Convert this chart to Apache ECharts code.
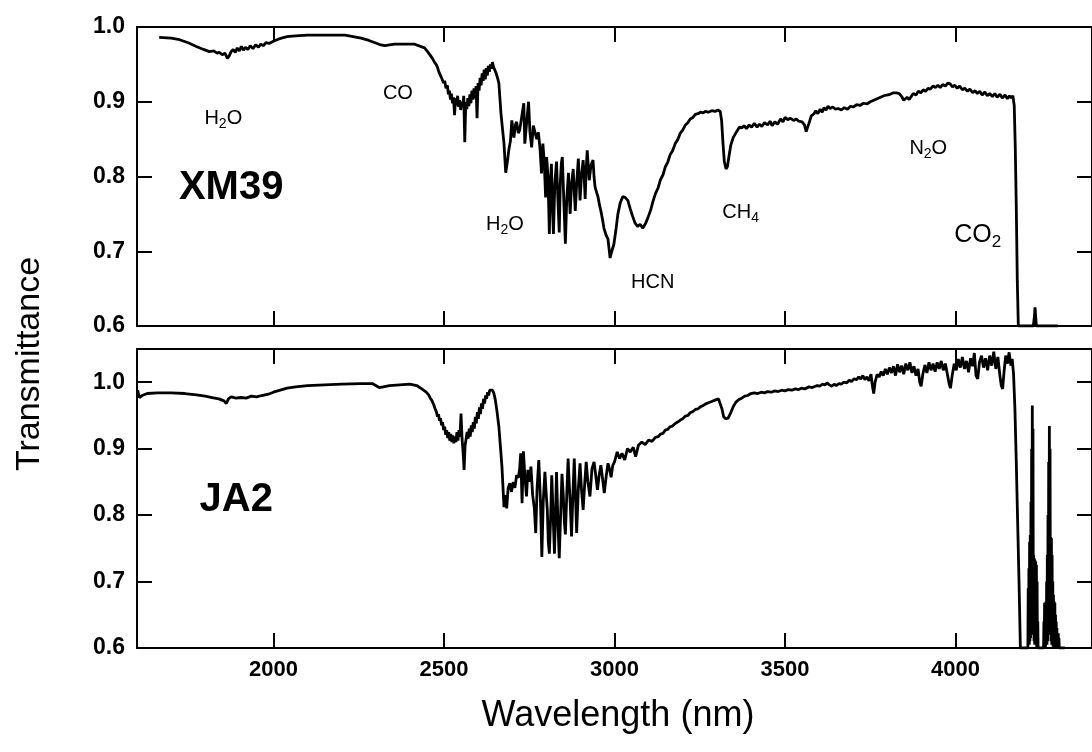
<!DOCTYPE html>
<html>
<head>
<meta charset="utf-8">
<script src="https://cdn.jsdelivr.net/npm/echarts@6/dist/echarts.min.js"></script>
<style>
  html, body { margin: 0; padding: 0; background: #fff; }
  #chart { width: 1092px; height: 752px; }
</style>
</head>
<body>
<div id="chart"></div>
<script>
// Tick positions shared by both panels
const xTicks = [2000, 2500, 3000, 3500, 4000];
const yTicks = [0.6, 0.7, 0.8, 0.9, 1.0];

// Transmittance spectrum, sample XM39: [wavelength (nm), transmittance]
const xm39 = [
  [1665,0.986],[1700,0.985],[1725,0.983],[1750,0.979],[1774,0.974],[1795,0.970],[1812,0.967],[1825,0.968],
  [1835,0.965],[1841,0.966],[1850,0.963],[1858,0.965],[1865,0.958],[1870,0.961],[1876,0.967],[1882,0.970],
  [1888,0.966],[1894,0.972],[1900,0.968],[1906,0.974],[1912,0.969],[1918,0.973],[1925,0.970],[1932,0.975],
  [1940,0.971],[1948,0.976],[1956,0.973],[1963,0.977],[1970,0.975],[1978,0.979],[1987,0.978],[2000,0.981],
  [2016,0.984],[2040,0.987],[2065,0.988],[2100,0.989],[2150,0.989],[2210,0.989],[2257,0.985],[2280,0.982],
  [2298,0.979],[2315,0.976],[2327,0.975],[2340,0.976],[2356,0.977],[2385,0.977],[2414,0.977],[2443,0.972],
  [2452,0.967],[2460,0.962],[2466,0.958],[2472,0.953],[2477,0.950],[2481,0.946],[2485,0.940],[2488,0.942],
  [2492,0.933],[2495,0.935],[2499,0.925],[2502,0.928],[2506,0.918],[2510,0.922],[2513,0.910],[2516,0.915],
  [2519,0.903],[2522,0.911],[2525,0.898],[2528,0.906],[2531,0.882],[2534,0.905],[2537,0.895],[2540,0.908],
  [2543,0.893],[2546,0.902],[2549,0.889],[2552,0.900],[2555,0.893],[2558,0.908],[2561,0.846],[2564,0.900],
  [2567,0.890],[2570,0.905],[2573,0.894],[2576,0.910],[2579,0.898],[2582,0.915],[2585,0.903],[2588,0.918],
  [2591,0.905],[2594,0.921],[2597,0.878],[2600,0.925],[2603,0.915],[2606,0.932],[2609,0.922],[2612,0.938],
  [2615,0.928],[2618,0.943],[2621,0.930],[2624,0.945],[2627,0.935],[2630,0.948],[2633,0.940],[2636,0.950],
  [2639,0.944],[2642,0.953],[2645,0.947],[2649,0.946],[2653,0.938],[2657,0.932],[2661,0.925],[2664,0.905],
  [2667,0.885],[2670,0.871],[2676,0.844],[2681,0.805],[2686,0.820],[2690,0.835],[2695,0.848],[2699,0.875],
  [2705,0.852],[2710,0.870],[2713,0.873],[2718,0.858],[2722,0.862],[2728,0.880],[2734,0.898],[2737,0.844],
  [2742,0.870],[2748,0.900],[2752,0.860],[2757,0.839],[2762,0.868],[2766,0.869],[2772,0.850],[2777,0.859],
  [2782,0.835],[2786,0.804],[2790,0.844],[2794,0.820],[2798,0.772],[2801,0.826],[2805,0.800],[2809,0.723],
  [2812,0.790],[2815,0.817],[2818,0.760],[2821,0.723],[2825,0.790],[2830,0.820],[2834,0.770],[2838,0.725],
  [2841,0.790],[2844,0.817],[2847,0.826],[2852,0.760],[2856,0.710],[2860,0.770],[2865,0.805],[2868,0.770],
  [2870,0.750],[2874,0.790],[2879,0.810],[2882,0.780],[2885,0.754],[2889,0.790],[2894,0.824],[2897,0.790],
  [2899,0.768],[2903,0.800],[2908,0.822],[2911,0.800],[2914,0.770],[2917,0.810],[2920,0.835],[2923,0.815],
  [2926,0.795],[2931,0.815],[2937,0.822],[2940,0.800],[2943,0.786],[2948,0.778],[2952,0.772],[2956,0.762],
  [2960,0.754],[2965,0.742],[2969,0.731],[2975,0.722],[2981,0.716],[2987,0.691],[2992,0.700],[2998,0.709],
  [3004,0.728],[3010,0.750],[3017,0.765],[3024,0.773],[3031,0.772],[3039,0.768],[3046,0.757],[3053,0.747],
  [3060,0.738],[3068,0.733],[3075,0.736],[3083,0.731],[3091,0.737],[3098,0.745],[3106,0.755],[3113,0.767],
  [3120,0.777],[3128,0.785],[3135,0.796],[3142,0.802],[3149,0.813],[3156,0.819],[3163,0.829],[3170,0.834],
  [3178,0.844],[3185,0.849],[3193,0.858],[3200,0.862],[3208,0.869],[3215,0.872],[3222,0.877],[3230,0.879],
  [3237,0.883],[3245,0.884],[3252,0.886],[3260,0.885],[3266,0.887],[3275,0.886],[3285,0.888],[3295,0.887],
  [3303,0.889],[3310,0.887],[3314,0.875],[3318,0.845],[3322,0.820],[3327,0.810],[3331,0.813],[3336,0.828],
  [3341,0.842],[3348,0.852],[3358,0.860],[3366,0.866],[3373,0.865],[3380,0.868],[3387,0.864],[3395,0.869],
  [3402,0.866],[3410,0.871],[3418,0.866],[3425,0.870],[3432,0.867],[3440,0.872],[3449,0.869],[3456,0.874],
  [3462,0.868],[3470,0.873],[3478,0.870],[3487,0.877],[3494,0.873],[3500,0.879],[3508,0.876],[3515,0.878],
  [3525,0.875],[3533,0.877],[3540,0.874],[3550,0.873],[3557,0.869],[3562,0.860],[3566,0.858],[3570,0.871],
  [3577,0.881],[3585,0.884],[3590,0.888],[3596,0.884],[3603,0.890],[3609,0.886],[3614,0.892],[3620,0.889],
  [3626,0.894],[3632,0.891],[3640,0.893],[3648,0.890],[3656,0.891],[3665,0.889],[3674,0.892],[3683,0.890],
  [3692,0.894],[3700,0.893],[3710,0.896],[3720,0.895],[3730,0.898],[3740,0.897],[3750,0.900],[3760,0.902],
  [3770,0.904],[3780,0.906],[3790,0.908],[3798,0.909],[3808,0.910],[3818,0.912],[3827,0.912],[3835,0.911],
  [3842,0.907],[3848,0.902],[3853,0.900],[3858,0.906],[3864,0.903],[3870,0.907],[3876,0.911],[3884,0.909],
  [3891,0.914],[3898,0.912],[3905,0.916],[3912,0.914],[3919,0.918],[3926,0.917],[3934,0.921],[3941,0.919],
  [3948,0.922],[3955,0.919],[3962,0.923],[3970,0.921],[3977,0.925],[3984,0.924],[3991,0.920],[3998,0.922],
  [4005,0.918],[4012,0.921],[4020,0.916],[4027,0.918],[4035,0.914],[4042,0.917],[4050,0.912],[4057,0.915],
  [4064,0.911],[4071,0.914],[4078,0.909],[4086,0.913],[4093,0.908],[4100,0.911],[4108,0.907],[4115,0.911],
  [4122,0.906],[4130,0.910],[4137,0.905],[4145,0.909],[4152,0.904],[4158,0.908],[4163,0.905],[4168,0.908],
  [4172,0.895],[4175,0.840],[4178,0.760],[4181,0.660],[4184,0.600],[4228,0.600],[4231,0.612],[4233,0.625],
  [4235,0.612],[4237,0.600],[4300,0.600]
];

// Transmittance spectrum, sample JA2: [wavelength (nm), transmittance]
const ja2 = [
  [1602,0.988],[1607,0.977],[1615,0.980],[1630,0.983],[1660,0.984],[1700,0.984],[1740,0.983],[1774,0.981],
  [1800,0.979],[1820,0.977],[1840,0.975],[1855,0.972],[1862,0.968],[1868,0.975],[1876,0.978],[1890,0.976],
  [1905,0.977],[1920,0.976],[1935,0.979],[1950,0.978],[1966,0.980],[1985,0.982],[2000,0.985],[2020,0.988],
  [2040,0.991],[2065,0.993],[2100,0.995],[2150,0.996],[2200,0.997],[2257,0.998],[2290,0.998],[2300,0.995],
  [2310,0.992],[2322,0.993],[2340,0.995],[2370,0.996],[2400,0.997],[2420,0.995],[2435,0.990],[2448,0.985],
  [2455,0.981],[2460,0.976],[2465,0.972],[2470,0.966],[2474,0.960],[2478,0.955],[2481,0.948],[2484,0.952],
  [2487,0.942],[2490,0.946],[2493,0.935],[2496,0.940],[2499,0.928],[2502,0.933],[2505,0.921],[2508,0.928],
  [2511,0.916],[2514,0.925],[2517,0.912],[2520,0.922],[2523,0.910],[2526,0.920],[2529,0.908],[2532,0.918],
  [2535,0.910],[2538,0.925],[2541,0.912],[2544,0.928],[2547,0.918],[2550,0.953],[2553,0.915],[2556,0.895],
  [2559,0.868],[2562,0.905],[2565,0.915],[2568,0.925],[2571,0.915],[2574,0.930],[2577,0.918],[2580,0.935],
  [2583,0.925],[2586,0.940],[2589,0.930],[2592,0.948],[2595,0.938],[2598,0.955],[2601,0.945],[2604,0.962],
  [2607,0.952],[2610,0.968],[2613,0.960],[2616,0.975],[2619,0.968],[2622,0.980],[2625,0.975],[2628,0.985],
  [2631,0.980],[2634,0.988],[2638,0.986],[2642,0.988],[2646,0.984],[2650,0.975],[2655,0.958],[2661,0.933],
  [2666,0.900],[2670,0.873],[2676,0.812],[2680,0.830],[2684,0.810],[2688,0.840],[2693,0.848],[2698,0.835],
  [2703,0.850],[2708,0.841],[2713,0.860],[2718,0.856],[2722,0.870],[2725,0.893],[2729,0.818],[2733,0.896],
  [2737,0.860],[2742,0.828],[2746,0.868],[2750,0.850],[2755,0.873],[2760,0.830],[2765,0.810],[2769,0.773],
  [2773,0.840],[2778,0.883],[2783,0.820],[2787,0.737],[2791,0.820],[2796,0.865],[2800,0.830],[2803,0.808],
  [2806,0.760],[2809,0.742],[2813,0.800],[2816,0.860],[2820,0.800],[2824,0.742],[2827,0.800],[2830,0.865],
  [2834,0.790],[2838,0.735],[2842,0.800],[2846,0.862],[2850,0.828],[2853,0.790],[2856,0.771],[2860,0.830],
  [2864,0.885],[2867,0.850],[2870,0.820],[2874,0.768],[2878,0.830],[2882,0.885],[2885,0.840],[2889,0.773],
  [2894,0.840],[2899,0.878],[2903,0.840],[2908,0.808],[2913,0.850],[2917,0.880],[2922,0.850],[2928,0.828],
  [2934,0.870],[2940,0.880],[2945,0.860],[2950,0.838],[2955,0.860],[2960,0.875],[2965,0.855],[2970,0.833],
  [2976,0.860],[2981,0.878],[2986,0.868],[2990,0.857],[2995,0.875],[3000,0.880],[3008,0.895],[3015,0.885],
  [3022,0.893],[3030,0.883],[3038,0.900],[3046,0.895],[3055,0.902],[3062,0.888],[3070,0.905],[3080,0.910],
  [3090,0.906],[3100,0.913],[3110,0.911],[3120,0.917],[3128,0.918],[3135,0.922],[3142,0.923],[3149,0.928],
  [3156,0.929],[3163,0.933],[3170,0.934],[3178,0.938],[3185,0.940],[3193,0.943],[3200,0.945],[3208,0.949],
  [3215,0.950],[3222,0.954],[3230,0.956],[3237,0.959],[3245,0.960],[3252,0.963],[3260,0.965],[3266,0.967],
  [3275,0.969],[3285,0.971],[3295,0.973],[3305,0.975],[3310,0.972],[3315,0.960],[3320,0.948],[3326,0.945],
  [3333,0.946],[3340,0.953],[3348,0.963],[3356,0.970],[3365,0.974],[3373,0.976],[3382,0.979],[3390,0.980],
  [3400,0.983],[3410,0.984],[3420,0.983],[3430,0.985],[3440,0.984],[3449,0.986],[3460,0.985],[3470,0.987],
  [3480,0.986],[3490,0.988],[3500,0.987],[3510,0.989],[3520,0.988],[3530,0.990],[3540,0.989],[3548,0.991],
  [3558,0.990],[3570,0.993],[3580,0.992],[3594,0.995],[3602,0.994],[3610,0.997],[3617,0.996],[3623,0.999],
  [3630,0.996],[3637,0.994],[3644,0.997],[3650,0.995],[3658,0.998],[3665,0.997],[3672,1.000],[3681,0.999],
  [3688,1.003],[3695,1.001],[3702,1.005],[3710,1.004],[3716,1.008],[3722,1.005],[3728,1.010],[3734,1.004],
  [3740,1.008],[3746,1.002],[3752,1.012],[3756,0.995],[3760,0.983],[3764,1.000],[3770,1.012],[3776,1.008],
  [3782,1.016],[3788,1.010],[3794,1.020],[3800,1.012],[3806,1.022],[3812,1.014],[3818,1.024],[3824,1.010],
  [3830,1.027],[3836,1.015],[3842,1.025],[3848,1.012],[3854,1.028],[3860,1.018],[3866,1.030],[3872,1.014],
  [3878,1.024],[3884,1.010],[3890,1.020],[3895,1.000],[3899,0.994],[3904,1.012],[3910,1.026],[3916,1.014],
  [3922,1.030],[3928,1.018],[3934,1.028],[3940,1.016],[3946,1.030],[3952,1.020],[3958,1.032],[3964,1.018],
  [3970,1.028],[3976,1.012],[3981,0.998],[3985,0.991],[3990,1.010],[3996,1.028],[4002,1.018],[4008,1.035],
  [4014,1.022],[4020,1.038],[4026,1.020],[4032,1.032],[4038,1.015],[4044,1.036],[4050,1.024],[4055,1.044],
  [4060,1.010],[4065,1.005],[4070,1.030],[4076,1.040],[4082,1.022],[4088,1.036],[4094,1.018],[4100,1.040],
  [4106,1.025],[4112,1.046],[4118,1.020],[4124,1.038],[4130,1.010],[4134,0.995],[4138,0.990],[4142,1.015],
  [4147,1.040],[4152,1.028],[4157,1.045],[4162,1.025],[4166,1.035],[4170,1.012],[4174,0.960],[4178,0.880],
  [4182,0.790],[4186,0.700],[4190,0.600],[4212,0.600],
  [4213,0.690],[4214,0.605],[4215,0.720],[4216,0.605],[4217,0.760],[4218,0.610],[4219,0.770],[4220,0.615],
  [4221,0.820],[4222,0.620],[4223,0.900],[4224,0.640],[4225,0.965],[4226,0.650],[4227,0.930],[4228,0.620],
  [4229,0.740],[4230,0.610],[4231,0.735],[4232,0.605],[4233,0.732],[4234,0.605],[4235,0.730],[4236,0.605],
  [4237,0.725],[4238,0.600],[4239,0.700],[4240,0.600],[4241,0.640],[4242,0.600],[4258,0.600],
  [4259,0.640],[4260,0.600],[4261,0.668],[4262,0.602],[4263,0.668],[4264,0.602],[4265,0.670],[4266,0.605],
  [4267,0.700],[4268,0.605],[4269,0.740],[4270,0.610],[4271,0.800],[4272,0.620],[4273,0.880],[4274,0.640],
  [4275,0.934],[4276,0.640],[4277,0.900],[4278,0.620],[4279,0.767],[4280,0.610],[4281,0.765],[4282,0.605],
  [4283,0.740],[4284,0.605],[4285,0.700],[4286,0.602],[4287,0.680],[4288,0.602],[4289,0.670],[4290,0.600],
  [4291,0.668],[4292,0.600],[4293,0.650],[4294,0.600],[4295,0.640],[4296,0.600],[4297,0.630],[4298,0.600],
  [4299,0.622],[4300,0.600],[4301,0.622],[4302,0.600],[4303,0.615],[4304,0.600],[4320,0.600]
];

// Band and sample labels: [panel, wavelength, transmittance, rich text, style]
const bandLabels = [
  [0, 1853, 0.878, 'H{s|2}O', 'n'],
  [0, 2365, 0.911, 'CO', 'n'],
  [0, 1876, 0.785, 'XM39', 'b'],
  [0, 2679, 0.736, 'H{s|2}O', 'n'],
  [0, 3112, 0.658, 'HCN', 'n'],
  [0, 3370, 0.752, 'CH{s|4}', 'n'],
  [0, 3920, 0.838, 'N{s|2}O', 'n'],
  [0, 4065, 0.721, 'CO{sl|2}', 'l'],
  [1, 1891, 0.823, 'JA2', 'b']
];

const FONT = '"Liberation Sans", Arial, Helvetica, sans-serif';
const X_MIN = 1600, X_MAX = 4400;
const AXIS_LINE = { show: true, onZero: false, lineStyle: { color: '#000', width: 2 } };

function xAxisDef(gridIndex, position, showLabel) {
  return {
    type: 'value', gridIndex, position, min: X_MIN, max: X_MAX,
    axisLine: AXIS_LINE,
    axisTick: { show: true, inside: true, length: 15, customValues: xTicks, lineStyle: { color: '#000', width: 2 } },
    axisLabel: {
      show: showLabel, customValues: xTicks, margin: 11,
      fontFamily: FONT, fontSize: 22, fontWeight: 'bold', color: '#000',
      formatter: v => String(v)
    },
    splitLine: { show: false }
  };
}

function yAxisDef(gridIndex, position, max, showLabel) {
  return {
    type: 'value', gridIndex, position, min: 0.6, max,
    axisLine: AXIS_LINE,
    axisTick: { show: true, inside: true, length: 15, customValues: yTicks, lineStyle: { color: '#000', width: 2 } },
    axisLabel: {
      show: showLabel, customValues: yTicks, margin: 12,
      fontFamily: FONT, fontSize: 23, fontWeight: 'bold', color: '#000',
      formatter: v => v.toFixed(1)
    },
    splitLine: { show: false }
  };
}

const chart = echarts.init(document.getElementById('chart'), null, { renderer: 'canvas' });

chart.setOption({
  animation: false,
  backgroundColor: '#fff',
  grid: [
    { left: 137, top: 27, width: 963, height: 299 },
    { left: 137, top: 349, width: 963, height: 299 }
  ],
  xAxis: [
    xAxisDef(0, 'bottom', false),
    xAxisDef(0, 'top', false),
    xAxisDef(1, 'bottom', true),
    xAxisDef(1, 'top', false)
  ],
  yAxis: [
    yAxisDef(0, 'left', 1.0, true),
    yAxisDef(0, 'right', 1.0, false),
    yAxisDef(1, 'left', 1.05, true),
    yAxisDef(1, 'right', 1.05, false)
  ],
  series: [
    {
      name: 'XM39', type: 'line', xAxisIndex: 0, yAxisIndex: 0, data: xm39,
      showSymbol: false, silent: true, clip: true,
      lineStyle: { color: '#000', width: 2.8 }
    },
    {
      name: 'JA2', type: 'line', xAxisIndex: 2, yAxisIndex: 2, data: ja2,
      showSymbol: false, silent: true, clip: true,
      lineStyle: { color: '#000', width: 2.8 }
    }
  ]
});

// Text placed from data coordinates of each panel
const richStyles = {
  s: { fontFamily: FONT, fontSize: 14, lineHeight: 14, padding: [12, 0, 0, 0], fill: '#000' },
  sl: { fontFamily: FONT, fontSize: 17, lineHeight: 17, padding: [14, 0, 0, 0], fill: '#000' }
};
const labelFont = {
  n: 'normal 20px ' + FONT,
  l: 'normal 25px ' + FONT,
  b: 'bold 40px ' + FONT
};

const graphics = bandLabels.map(([panel, wl, t, text, kind]) => {
  const p = chart.convertToPixel({ xAxisIndex: panel * 2, yAxisIndex: panel * 2 }, [wl, t]);
  return {
    type: 'text', x: p[0], y: p[1], silent: true,
    style: {
      text, font: labelFont[kind], fill: '#000',
      align: 'center', verticalAlign: 'middle', rich: richStyles
    }
  };
});

graphics.push({
  type: 'text', x: 618, y: 716, silent: true,
  style: { text: 'Wavelength (nm)', font: 'normal 36px ' + FONT, fill: '#000', align: 'center', verticalAlign: 'middle' }
});
graphics.push({
  type: 'text', x: 30, y: 364, rotation: Math.PI / 2, silent: true,
  style: { text: 'Transmittance', font: 'normal 34px ' + FONT, fill: '#000', align: 'center', verticalAlign: 'middle' }
});

chart.setOption({ graphic: graphics });
</script>
</body>
</html>
